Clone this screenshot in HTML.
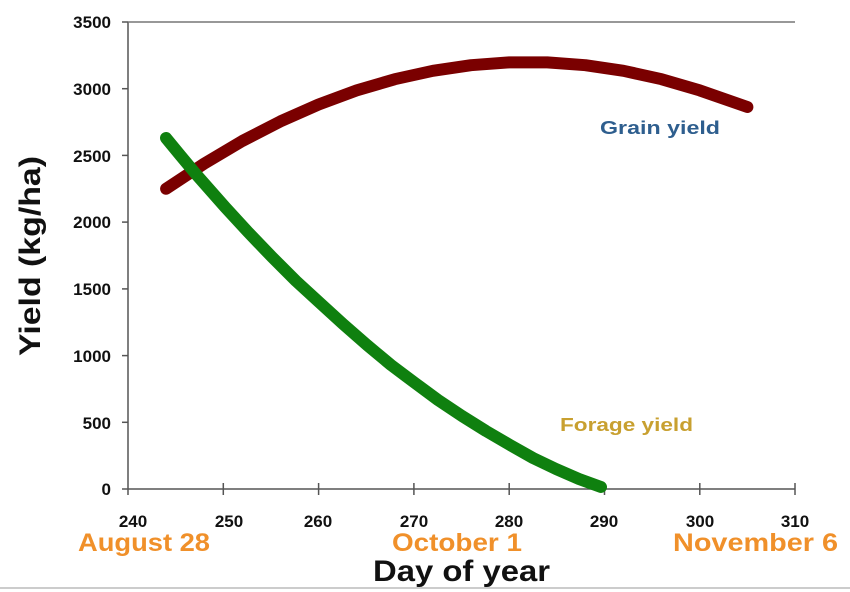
<!DOCTYPE html>
<html><head><style>body{margin:0;background:#fff}svg{display:block}</style></head>
<body>
<svg width="850" height="592" viewBox="0 0 850 592" xmlns="http://www.w3.org/2000/svg" font-family="Liberation Sans, sans-serif">
<rect width="850" height="592" fill="#fff"/>
<g stroke="#555" stroke-width="1.5" fill="none">
<line x1="128" y1="22" x2="128" y2="489"/>
<line x1="128" y1="489" x2="795" y2="489"/>
<line x1="128" y1="22" x2="795" y2="22" stroke="#777"/>
<line x1="122" y1="22" x2="128" y2="22"/><line x1="122" y1="88.7" x2="128" y2="88.7"/><line x1="122" y1="155.4" x2="128" y2="155.4"/><line x1="122" y1="222.1" x2="128" y2="222.1"/><line x1="122" y1="288.9" x2="128" y2="288.9"/><line x1="122" y1="355.6" x2="128" y2="355.6"/><line x1="122" y1="422.3" x2="128" y2="422.3"/><line x1="122" y1="489" x2="128" y2="489"/>
<line x1="128" y1="489" x2="128" y2="495"/><line x1="223.3" y1="483" x2="223.3" y2="495"/><line x1="318.6" y1="483" x2="318.6" y2="495"/><line x1="413.9" y1="483" x2="413.9" y2="495"/><line x1="509.2" y1="483" x2="509.2" y2="495"/><line x1="604.5" y1="483" x2="604.5" y2="495"/><line x1="699.8" y1="483" x2="699.8" y2="495"/><line x1="795" y1="483" x2="795" y2="495"/>
</g>
<g font-size="17" font-weight="bold" fill="#111" text-anchor="end">
<text x="111" y="28">3500</text><text x="111" y="95">3000</text><text x="111" y="162">2500</text><text x="111" y="228">2000</text><text x="111" y="295">1500</text><text x="111" y="362">1000</text><text x="111" y="429">500</text><text x="111" y="495">0</text>
</g>
<g font-size="17" font-weight="bold" fill="#111" text-anchor="middle">
<text x="133" y="527">240</text><text x="229" y="527">250</text><text x="318" y="527">260</text><text x="414" y="527">270</text><text x="509" y="527">280</text><text x="604" y="527">290</text><text x="700" y="527">300</text><text x="795" y="527">310</text>
</g>
<g font-size="25" font-weight="bold" fill="#f0902a">
<text x="78" y="551" textLength="132" lengthAdjust="spacingAndGlyphs">August 28</text><text x="392" y="551" textLength="130" lengthAdjust="spacingAndGlyphs">October 1</text><text x="673" y="551" textLength="165" lengthAdjust="spacingAndGlyphs">November 6</text>
</g>
<text x="373" y="581" font-size="30" font-weight="bold" fill="#111" textLength="177" lengthAdjust="spacingAndGlyphs">Day of year</text>
<text transform="translate(40,256) rotate(-90)" font-size="30" font-weight="bold" text-anchor="middle" fill="#111" textLength="200" lengthAdjust="spacingAndGlyphs">Yield (kg/ha)</text>
<text x="600" y="134" font-size="18" font-weight="bold" fill="#2e5e8e" textLength="120" lengthAdjust="spacingAndGlyphs">Grain yield</text>
<text x="560" y="431" font-size="18" font-weight="bold" fill="#c8a030" textLength="133" lengthAdjust="spacingAndGlyphs">Forage yield</text>
<polyline fill="none" stroke="#7a0000" stroke-width="12" stroke-linecap="round" stroke-linejoin="round" points="166.1,188.8 204.2,163.6 242.3,141 280.4,121.4 318.6,104.5 356.7,90.4 394.8,79.2 432.9,70.8 471,65.2 509.2,62.4 547.3,62.4 585.4,65.2 623.5,70.8 661.6,79.2 699.8,90.4 747.4,107"/>
<polyline fill="none" stroke="#0f800f" stroke-width="12" stroke-linecap="round" stroke-linejoin="round" points="166,138 180,155 195,173 210,190 225,207 248,232 272,257 296,281 320,303 343,324 367,345 391,365 415,383 438,400 462,416 486,431 510,445 533,458 556,469 579,479 601,487"/>
<line x1="0" y1="588" x2="850" y2="588" stroke="#ccc" stroke-width="2"/>
</svg>
</body></html>
